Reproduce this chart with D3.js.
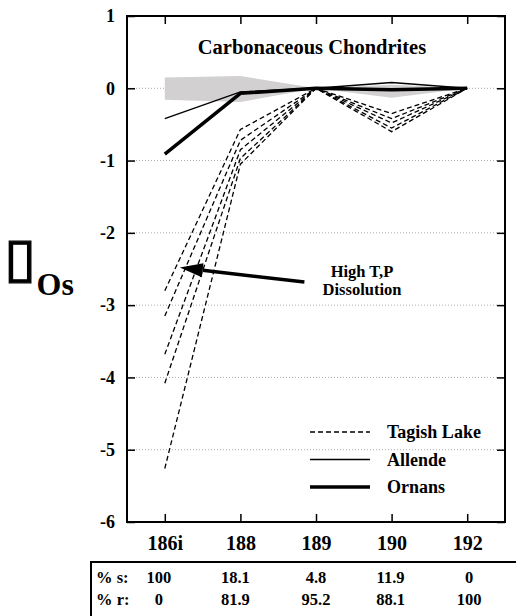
<!DOCTYPE html>
<html>
<head>
<meta charset="utf-8">
<script src="https://cdn.jsdelivr.net/npm/d3@7"></script>
<style>
  body { margin: 0; background: #fff; }
  svg text { font-family: "Liberation Serif", "Times New Roman", serif; font-weight: bold; }
</style>
</head>
<body>
<div id="chart"></div>
<script>
// Data
const categories = ["186i", "188", "189", "190", "192"];
const tagishLake = [
  [-2.80, -0.57, 0, -0.35, 0],
  [-3.15, -0.72, 0, -0.42, 0],
  [-3.68, -0.85, 0, -0.48, 0],
  [-4.08, -0.97, 0, -0.55, 0],
  [-5.26, -1.05, 0, -0.60, 0]
];
const allende = [-0.42, -0.05, 0, 0.08, 0];
const ornans = [-0.91, -0.07, 0, -0.02, 0];
const bandHigh = [0.15, 0.17, 0, 0.05, 0];
const bandLow = [-0.16, -0.19, 0, -0.13, 0];
const yTicks = [1, 0, -1, -2, -3, -4, -5, -6];
const pctS = ["100", "18.1", "4.8", "11.9", "0"];
const pctR = ["0", "81.9", "95.2", "88.1", "100"];
const legendItems = [
  { name: "Tagish Lake", dash: "5,3", width: 1.3 },
  { name: "Allende", dash: null, width: 1.5 },
  { name: "Ornans", dash: null, width: 3.5 }
];

const width = 516, height = 616;
const plot = { left: 127, right: 505, top: 16, bottom: 522 };

const svg = d3.select("#chart")
  .append("svg")
    .attr("width", width)
    .attr("height", height);

const x = d3.scalePoint()
  .domain(categories)
  .range([plot.left, plot.right])
  .padding(0.5);

const y = d3.scaleLinear()
  .domain([-6, 1])
  .range([plot.bottom, plot.top]);

// dotted gridlines
svg.append("g")
  .selectAll("line")
  .data(yTicks.filter(d => d > -6 && d < 1))
  .join("line")
    .attr("x1", plot.left)
    .attr("x2", plot.right)
    .attr("y1", d => y(d))
    .attr("y2", d => y(d))
    .attr("stroke", "#aaa")
    .attr("stroke-width", 1)
    .attr("stroke-dasharray", "1,2");

// grey band
const band = categories.map((c, i) => ({ c, hi: bandHigh[i], lo: bandLow[i] }));
svg.append("path")
  .datum(band)
  .attr("fill", "#d2d0d0")
  .attr("d", d3.area()
    .x(d => x(d.c))
    .y0(d => y(d.lo))
    .y1(d => y(d.hi)));

const line = d3.line()
  .x((d, i) => x(categories[i]))
  .y(d => y(d));

// Tagish Lake
svg.append("g")
  .selectAll("path")
  .data(tagishLake)
  .join("path")
    .attr("d", line)
    .attr("fill", "none")
    .attr("stroke", "#000")
    .attr("stroke-width", 1.3)
    .attr("stroke-dasharray", "5,3");

svg.append("path")
  .attr("d", line(allende))
  .attr("fill", "none")
  .attr("stroke", "#000")
  .attr("stroke-width", 1.5);

svg.append("path")
  .attr("d", line(ornans))
  .attr("fill", "none")
  .attr("stroke", "#000")
  .attr("stroke-width", 3.5)
  .attr("stroke-linejoin", "round");

// axes (ticks point inward)
const styleAxis = g => {
  g.select(".domain").remove();
  g.selectAll(".tick line").attr("stroke", "#000").attr("stroke-width", 1.5);
  g.selectAll("text").attr("fill", "#000");
};

svg.append("g")
  .attr("transform", `translate(${plot.left},0)`)
  .call(d3.axisLeft(y).tickValues(yTicks).tickSize(-8).tickPadding(12).tickFormat(d => String(d)))
  .call(styleAxis)
  .call(g => g.selectAll("text").style("font-size", "18px"));

svg.append("g")
  .attr("transform", `translate(${plot.right},0)`)
  .call(d3.axisRight(y).tickValues(yTicks).tickSize(-8).tickFormat(""))
  .call(styleAxis);

svg.append("g")
  .attr("transform", `translate(0,${plot.bottom})`)
  .call(d3.axisBottom(x).tickSize(-8).tickPadding(14))
  .call(styleAxis)
  .call(g => g.selectAll("text").style("font-size", "20px"));

svg.append("g")
  .attr("transform", `translate(0,${plot.top})`)
  .call(d3.axisTop(x).tickSize(-8).tickFormat(""))
  .call(styleAxis);

// frame
svg.append("rect")
  .attr("x", plot.left)
  .attr("y", plot.top)
  .attr("width", plot.right - plot.left)
  .attr("height", plot.bottom - plot.top)
  .attr("fill", "none")
  .attr("stroke", "#000")
  .attr("stroke-width", 2);

// title
svg.append("text")
  .attr("x", 312)
  .attr("y", 54)
  .attr("text-anchor", "middle")
  .style("font-size", "20.5px")
  .text("Carbonaceous Chondrites");

// y label (missing-glyph box followed by Os)
svg.append("text")
  .attr("x", 4)
  .attr("y", 275.5)
  .attr("textLength", 32)
  .attr("lengthAdjust", "spacingAndGlyphs")
  .style("font-family", "DejaVu Sans")
  .style("font-size", "54px")
  .style("font-weight", "normal")
  .attr("stroke", "#000")
  .attr("stroke-width", 1.2)
  .text("\u25AF");
svg.append("text")
  .attr("x", 36.5)
  .attr("y", 295)
  .style("font-size", "32px")
  .text("Os");

// annotation arrow
const tip = [x("186i") + 15, y(-2.48)];
const tail = [x("188") + 64, y(-2.68)];
const ang = Math.atan2(tail[1] - tip[1], tail[0] - tip[0]);
const headLen = 23, headW = 7;
const base = [tip[0] + headLen * Math.cos(ang), tip[1] + headLen * Math.sin(ang)];
svg.append("line")
  .attr("x1", tail[0]).attr("y1", tail[1])
  .attr("x2", base[0]).attr("y2", base[1])
  .attr("stroke", "#000")
  .attr("stroke-width", 3.5);
svg.append("path")
  .attr("d", `M${tip[0]},${tip[1]}
    L${base[0] - headW * Math.sin(ang)},${base[1] + headW * Math.cos(ang)}
    L${base[0] + headW * Math.sin(ang)},${base[1] - headW * Math.cos(ang)}Z`)
  .attr("fill", "#000");

svg.append("text")
  .attr("x", 362)
  .attr("y", 277)
  .attr("text-anchor", "middle")
  .style("font-size", "16.5px")
  .selectAll("tspan")
  .data(["High T,P", "Dissolution"])
  .join("tspan")
    .attr("x", 362)
    .attr("dy", (d, i) => i ? 18 : 0)
    .text(d => d);

// legend
const legend = svg.append("g")
  .selectAll("g")
  .data(legendItems)
  .join("g")
    .attr("transform", (d, i) => `translate(310,${432 + i * 27.5})`);
legend.append("line")
  .attr("x1", 0).attr("x2", 60)
  .attr("stroke", "#000")
  .attr("stroke-width", d => d.width)
  .attr("stroke-dasharray", d => d.dash);
legend.append("text")
  .attr("x", 77)
  .attr("y", 6)
  .style("font-size", "18px")
  .text(d => d.name);

// table
svg.append("rect")
  .attr("x", 91)
  .attr("y", 562)
  .attr("width", 440)
  .attr("height", 80)
  .attr("fill", "none")
  .attr("stroke", "#000")
  .attr("stroke-width", 2);

const colShift = [-6, -5, 0, -1, 2];
const rows = [{ label: "% s:", vals: pctS, y: 583 }, { label: "% r:", vals: pctR, y: 605 }];
rows.forEach(r => {
  svg.append("text")
    .attr("x", 96)
    .attr("y", r.y)
    .style("font-size", "16.5px")
    .text(r.label);
  svg.append("g")
    .selectAll("text")
    .data(r.vals)
    .join("text")
      .attr("x", (d, i) => x(categories[i]) + colShift[i])
      .attr("y", r.y)
      .attr("text-anchor", "middle")
      .style("font-size", "16.5px")
      .text(d => d);
});
</script>
</body>
</html>
